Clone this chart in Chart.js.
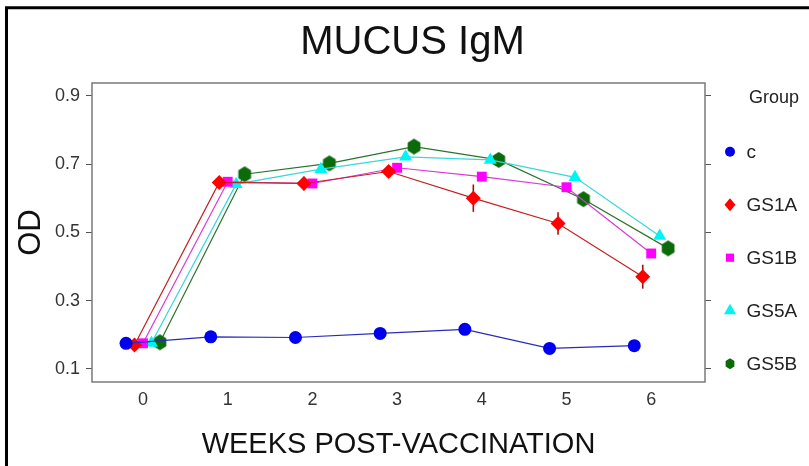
<!DOCTYPE html>
<html>
<head>
<meta charset="utf-8">
<script src="https://cdn.jsdelivr.net/npm/chart.js@4"></script>
<style>
html,body{margin:0;padding:0;background:#fff;}
canvas{display:block;}
</style>
</head>
<body>
<canvas id="c" width="809" height="466"></canvas>
<script>
// ---- data ----
const weeks = [0, 1, 2, 3, 4, 5, 6];
const groupNames = ['c', 'GS1A', 'GS1B', 'GS5A', 'GS5B'];
const valC    = [0.175, 0.194, 0.192, 0.204, 0.216, 0.160, 0.168];
const valGS1A = [0.170, 0.646, 0.643, 0.678, 0.600, 0.526, 0.370];
const valGS1B = [0.175, 0.648, 0.643, 0.689, 0.663, 0.632, 0.438];
const valGS5A = [0.176, 0.641, 0.685, 0.721, 0.712, 0.661, 0.489];
const valGS5B = [0.178, 0.670, 0.702, 0.751, 0.712, 0.597, 0.453];
const errC    = [0, 0, 0, 0, 0, 0, 0];
const errGS1A = [0, 0.010, 0.020, 0.015, 0.040, 0.033, 0.035];
const errGS1B = [0, 0, 0, 0, 0, 0, 0];
const errGS5A = [0, 0, 0, 0, 0, 0, 0];
const errGS5B = [0, 0, 0, 0.010, 0, 0.020, 0];
const yTickValues = [0.1, 0.3, 0.5, 0.7, 0.9];
const xTickValues = [0, 1, 2, 3, 4, 5, 6];
const titleText = 'MUCUS IgM';
const xTitleText = 'WEEKS POST-VACCINATION';
const yTitleText = 'OD';
const legendTitleText = 'Group';

// ---- styling ----
const dodge = [-0.2, -0.1, 0, 0.1, 0.2];
const markerColors = ['#0000ee', '#ff0000', '#ff00ff', '#00f4f4', '#0b6b0b'];
const lineColors   = ['#2a2ab8', '#c42020', '#d838d8', '#38d8d8', '#2a742a'];
const errColors    = ['#2a2ab8', '#a01010', '#b020b0', '#20b0b0', '#1a5a1a'];
const shapes = ['circle', 'rectRot', 'rect', 'triangle', 'hex'];
const radii = [6.5, 7.5, 7, 7.5, 8];

const FONT = "'Liberation Sans', Arial, sans-serif";

function hexPath(ctx, x, y, r) {
  ctx.beginPath();
  for (let k = 0; k < 6; k++) {
    const a = Math.PI / 2 + k * Math.PI / 3;
    const px = x + Math.cos(a) * r * 0.92;
    const py = y - Math.sin(a) * r;
    if (k === 0) ctx.moveTo(px, py); else ctx.lineTo(px, py);
  }
  ctx.closePath();
}
function makeHex(r, color) {
  const s = Math.ceil(r * 2 + 2);
  const cv = document.createElement('canvas');
  cv.width = s; cv.height = s;
  const g = cv.getContext('2d');
  g.fillStyle = color;
  hexPath(g, s / 2, s / 2, r);
  g.fill();
  return cv;
}
const hexImg = makeHex(radii[4], markerColors[4]);

const seriesVals = [valC, valGS1A, valGS1B, valGS5A, valGS5B];
const seriesErrs = [errC, errGS1A, errGS1B, errGS5A, errGS5B];

const datasets = groupNames.map((name, i) => ({
  label: name,
  data: weeks.map((w, j) => ({ x: w + dodge[i], y: seriesVals[i][j] })),
  borderColor: lineColors[i],
  borderWidth: 1.2,
  backgroundColor: markerColors[i],
  pointBackgroundColor: markerColors[i],
  pointBorderColor: markerColors[i],
  pointBorderWidth: 0,
  pointStyle: shapes[i] === 'hex' ? hexImg : shapes[i],
  pointRadius: radii[i],
  pointHoverRadius: radii[i],
  tension: 0,
  fill: false
}));

const X_MIN = -0.602, X_MAX = 6.635;
const Y_MIN = 0.0617, Y_MAX = 0.9372;

const bgPlugin = {
  id: 'bg',
  beforeDraw(chart) {
    const ctx = chart.ctx;
    ctx.save();
    ctx.fillStyle = '#fff';
    ctx.fillRect(0, 0, chart.width, chart.height);
    ctx.restore();
  }
};

const errPlugin = {
  id: 'errbars',
  beforeDatasetsDraw(chart) {
    const ctx = chart.ctx;
    const ys = chart.scales.y;
    ctx.save();
    ctx.lineWidth = 1.6;
    seriesErrs.forEach((errs, i) => {
      const meta = chart.getDatasetMeta(i);
      ctx.strokeStyle = errColors[i];
      errs.forEach((e, j) => {
        if (!e) return;
        const pt = meta.data[j];
        const v = seriesVals[i][j];
        ctx.beginPath();
        ctx.moveTo(pt.x, ys.getPixelForValue(v + e));
        ctx.lineTo(pt.x, ys.getPixelForValue(v - e));
        ctx.stroke();
      });
    });
    ctx.restore();
  }
};

function drawShape(ctx, shape, x, y, r, color) {
  ctx.fillStyle = color;
  ctx.beginPath();
  if (shape === 'circle') {
    ctx.arc(x, y, r, 0, Math.PI * 2);
  } else if (shape === 'rectRot') {
    ctx.moveTo(x, y - r); ctx.lineTo(x + r * 0.85, y); ctx.lineTo(x, y + r); ctx.lineTo(x - r * 0.85, y); ctx.closePath();
  } else if (shape === 'rect') {
    const h = r * Math.SQRT1_2;
    ctx.rect(x - h, y - h, 2 * h, 2 * h);
  } else if (shape === 'triangle') {
    ctx.moveTo(x, y - r);
    ctx.lineTo(x + r * Math.sin(2 * Math.PI / 3), y - r * Math.cos(2 * Math.PI / 3));
    ctx.lineTo(x - r * Math.sin(2 * Math.PI / 3), y - r * Math.cos(2 * Math.PI / 3));
    ctx.closePath();
  } else if (shape === 'hex') {
    hexPath(ctx, x, y, r);
  }
  ctx.fill();
}

const framePlugin = {
  id: 'frame',
  afterDraw(chart) {
    const ctx = chart.ctx;
    const a = chart.chartArea;
    ctx.save();
    // plot frame
    ctx.strokeStyle = '#7a7a7a';
    ctx.lineWidth = 1.5;
    ctx.strokeRect(a.left, a.top, a.right - a.left, a.bottom - a.top);
    // outer picture frame (left and top edges)
    ctx.strokeStyle = '#000';
    ctx.lineWidth = 3;
    ctx.beginPath();
    ctx.moveTo(6.5, chart.height);
    ctx.lineTo(6.5, 7.8);
    ctx.lineTo(chart.width, 7.8);
    ctx.stroke();
    // legend
    ctx.fillStyle = '#222';
    ctx.textBaseline = 'middle';
    ctx.textAlign = 'left';
    ctx.font = '18px ' + FONT;
    ctx.fillText(legendTitleText, 749, 98);
    const legendR = [5, 6.5, 5.8, 7, 5.5];
    groupNames.forEach((name, i) => {
      const y = 151.7 + i * 53;
      drawShape(ctx, shapes[i], 730, y, legendR[i], markerColors[i]);
      ctx.fillStyle = '#222';
      ctx.font = '19px ' + FONT;
      ctx.fillText(name, 746.5, y + 1);
    });
    ctx.restore();
  }
};

new Chart(document.getElementById('c'), {
  type: 'line',
  data: { datasets },
  plugins: [bgPlugin, errPlugin, framePlugin],
  options: {
    responsive: false,
    animation: false,
    devicePixelRatio: 1,
    layout: { padding: { left: 16, right: 0, top: 0, bottom: 0 } },
    plugins: {
      legend: { display: false },
      tooltip: { enabled: false },
      title: {
        display: true,
        text: titleText,
        color: '#111',
        font: { family: FONT, size: 40, weight: 'normal', lineHeight: 1.2 },
        padding: { top: 18.8, bottom: 16.2 }
      }
    },
    scales: {
      x: {
        type: 'linear',
        position: 'bottom',
        min: X_MIN, max: X_MAX,
        afterBuildTicks(s) { s.ticks = xTickValues.map(v => ({ value: v })); },
        afterFit(s) { s.height = 84; },
        grid: { display: true, drawOnChartArea: false, drawTicks: false },
        border: { display: false },
        ticks: {
          padding: 7,
          color: '#333',
          font: { family: FONT, size: 18 },
          callback: v => String(v),
          autoSkip: false, maxRotation: 0
        },
        title: {
          display: true,
          text: xTitleText,
          color: '#111',
          font: { family: FONT, size: 29, weight: 'normal', lineHeight: 1.2 },
          padding: { top: 0, bottom: 4 }
        }
      },
      y: {
        type: 'linear',
        position: 'left',
        min: Y_MIN, max: Y_MAX,
        afterBuildTicks(s) { s.ticks = yTickValues.map(v => ({ value: v })); },
        afterFit(s) { s.width = 76; },
        grid: { display: true, drawOnChartArea: false, drawTicks: true, tickLength: 6, color: '#555', lineWidth: 1 },
        border: { display: false },
        ticks: {
          padding: 6,
          color: '#333',
          font: { family: FONT, size: 18 },
          callback: v => v.toFixed(1)
        },
        title: {
          display: true,
          text: yTitleText,
          color: '#111',
          font: { family: FONT, size: 31, weight: 'normal', lineHeight: 1.0 },
          padding: { top: 0, bottom: 0 }
        }
      },
      y2: {
        type: 'linear',
        position: 'right',
        min: Y_MIN, max: Y_MAX,
        afterBuildTicks(s) { s.ticks = yTickValues.map(v => ({ value: v })); },
        afterFit(s) { s.width = 104; },
        grid: { display: true, drawOnChartArea: false, drawTicks: true, tickLength: 6, color: '#555', lineWidth: 1 },
        border: { display: false },
        ticks: { display: false }
      }
    }
  }
});
</script>
</body>
</html>
